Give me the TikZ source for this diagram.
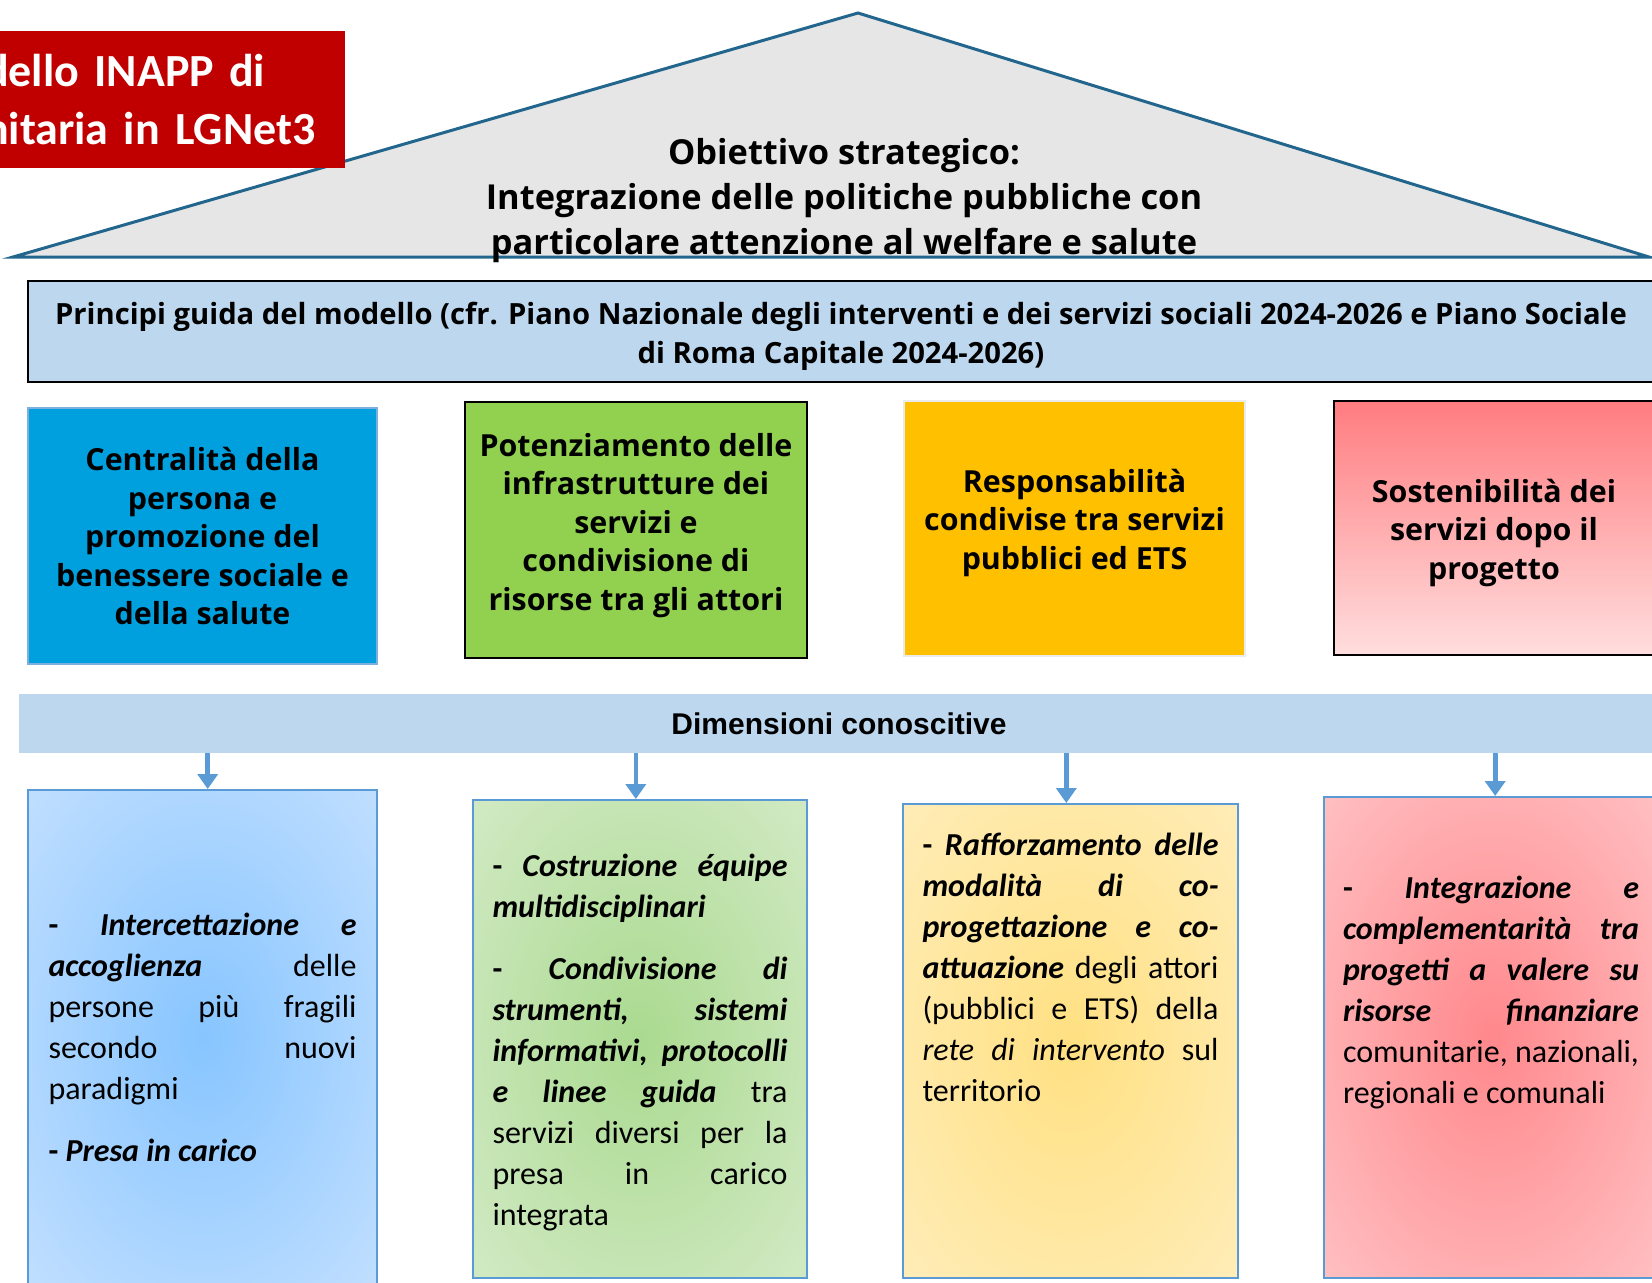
\documentclass[tikz,border=0pt]{standalone}
\usepackage{fontspec}
\setmainfont{Carlito}
\newfontfamily\headfont{Open Sans}
\newfontfamily\arialfont{Liberation Sans}
\usetikzlibrary{positioning,arrows.meta}
\definecolor{roofline}{HTML}{22668E}
\definecolor{roofgray}{HTML}{E7E6E6}
\definecolor{bandblue}{HTML}{BDD7EE}
\definecolor{titlered}{HTML}{C00000}
\definecolor{cardblue}{HTML}{00A0DF}
\definecolor{cardgreen}{HTML}{92D050}
\definecolor{cardyellow}{HTML}{FFC000}
\definecolor{cardpinktop}{HTML}{FF7C80}
\definecolor{cardpinkbot}{HTML}{FFDEDE}
\definecolor{arrowblue}{HTML}{5B9BD5}
\definecolor{blueIn}{HTML}{87C5FF}
\definecolor{blueOut}{HTML}{D8E9FF}
\definecolor{greenIn}{HTML}{AADA90}
\definecolor{greenOut}{HTML}{E2F0D9}
\definecolor{yellowIn}{HTML}{FFE082}
\definecolor{yellowOut}{HTML}{FFF2CE}
\definecolor{redIn}{HTML}{FF888C}
\definecolor{redOut}{HTML}{FFD6D8}
\makeatletter
\pgfdeclareradialshading[tikz@radial@inner,tikz@radial@outer]{softradial}{\pgfqpoint{0pt}{0pt}}{color(0pt)=(tikz@radial@inner);color(50bp)=(tikz@radial@outer);color(75bp)=(tikz@radial@outer)}
\makeatother
\hyphenpenalty=10000
\tolerance=10000
\tikzset{
  >=stealth,
  roof/.style={fill=roofgray, draw=roofline, line width=1.5pt, line join=miter},
  card/.style={line width=1.2pt, inner sep=0pt, align=center,
    font=\headfont\bfseries\fontsize{15.2}{19.25}\selectfont},
  dimbox/.style={line width=1pt, draw=arrowblue},
  glow/.style={dimbox, inner color=#1In, outer color=#1Out, shading=softradial},
  txt/.style={inner sep=0pt, text width=#1, align=justify, font=\fontsize{16}{20.5}\selectfont},
  flow/.style={draw=arrowblue, line width=2.3pt, -{Triangle[width=10pt,length=7.5pt]}}
}
\begin{document}
\begin{tikzpicture}[x=0.5pt,y=-0.5pt]
  \useasboundingbox (0,0) rectangle (1652,1282);
  \clip (0,0) rectangle (1652,1282);
  % tetto
  \draw[roof] (13,257) -- (858,13) -- (1649,257) -- cycle;
  \node[fill=titlered, text=white, inner xsep=7pt, inner ysep=0pt, text width=173.5pt,
    minimum height=68.5pt, align=left, font=\bfseries\fontsize{23}{29}\selectfont]
    (titolo) at (157.5,99.5) {dello INAPP di\\nitaria in LGNet3};
  \node[align=center, font=\headfont\bfseries\fontsize{17.2}{22.5}\selectfont] (obiettivo) at (844,201)
    {Obiettivo strategico:\\Integrazione delle politiche pubbliche con\\particolare attenzione al welfare e salute};
  % principi
  \node[draw=black, line width=1pt, fill=bandblue, minimum width=813pt, minimum height=50.5pt,
    align=center, font=\headfont\bfseries\fontsize{14.6}{19.5}\selectfont] (principi) at (841,331.5)
    {Principi guida del modello (cfr. Piano Nazionale degli interventi e dei servizi sociali 2024-2026 e Piano Sociale\\di Roma Capitale 2024-2026)\\[-20.5pt]};
  \node[card, draw=arrowblue!80, fill=cardblue, minimum width=174.5pt, minimum height=128pt] (c1) at (202.5,536)
    {Centralità della\\persona e\\promozione del\\benessere sociale e\\della salute};
  \node[card, draw=black, fill=cardgreen, minimum width=171pt, minimum height=128pt] (c2) at (636,530)
    {Potenziamento delle\\infrastrutture dei\\servizi e\\condivisione di\\risorse tra gli attori\\[-11pt]};
  \node[card, draw=black!8, fill=cardyellow, minimum width=170.5pt, minimum height=127.5pt] (c3) at (1074.5,528.5)
    {Responsabilità\\condivise tra servizi\\pubblici ed ETS\\[-10pt]};
  \node[card, draw=black, top color=cardpinktop, bottom color=cardpinkbot,
    minimum width=160pt, minimum height=127pt] (c4) at (1494,528)
    {Sostenibilità dei\\servizi dopo il\\progetto\\[-20.25pt]};
  % dimensioni
  \node[fill=bandblue, minimum width=820pt, minimum height=29.5pt,
    font=\arialfont\bfseries\fontsize{15}{18}\selectfont] (dim) at (839,723.5) {Dimensioni conoscitive};
  \node[glow=blue, minimum width=174.5pt, minimum height=247pt] (d1) at (202.5,1037) {};
  \node[glow=green, minimum width=167pt, minimum height=239pt] (d2) at (640,1039) {};
  \node[glow=yellow, minimum width=167.5pt, minimum height=237pt] (d3) at (1070.5,1041) {};
  \node[glow=red, minimum width=167pt, minimum height=240.5pt] (d4) at (1491,1037.5) {};
  \foreach \b/\dx in {d1/2.6,d2/-2.1,d3/-2.1,d4/2.1}
    \draw[flow] ([xshift=\dx pt]\b.north |- dim.south) -- ([xshift=\dx pt]\b.north);
  \node[txt=154pt, below=62pt of d1.north] (t1)
    {\textbf{- \textit{Intercettazione e}}\linebreak \textbf{\textit{accoglienza}} delle\linebreak persone più fragili\linebreak secondo nuovi\linebreak paradigmi\par\vspace{10.5pt}
     \textbf{- \textit{Presa in carico}}};
  \node[txt=147.5pt, below=27.5pt of d2.north] (t2)
    {\textbf{- \textit{Costruzione équipe}}\linebreak \textbf{\textit{multidisciplinari}}\par\vspace{10.5pt}
     \textbf{- \textit{Condivisione di}}\linebreak \textbf{\textit{strumenti, sistemi}}\linebreak \textbf{\textit{informativi, protocolli}}\linebreak \textbf{\textit{e linee guida}} tra\linebreak servizi diversi per la\linebreak presa in carico\linebreak integrata};
  \node[txt=148pt, below=15pt of d3.north] (t3)
    {\textbf{- \textit{Rafforzamento delle}}\linebreak \textbf{\textit{modalità di co-}}\linebreak \textbf{\textit{progettazione e co-}}\linebreak \textbf{\textit{attuazione}} degli attori\linebreak (pubblici e ETS) della\linebreak \textit{rete di intervento} sul\linebreak territorio};
  \node[txt=148pt, below=40pt of d4.north] (t4)
    {\textbf{- \textit{Integrazione e}}\linebreak \textbf{\textit{complementarità tra}}\linebreak \textbf{\textit{progetti a valere su}}\linebreak \textbf{\textit{risorse finanziare}}\linebreak comunitarie, nazionali,\linebreak regionali e comunali};
\end{tikzpicture}
\end{document}
